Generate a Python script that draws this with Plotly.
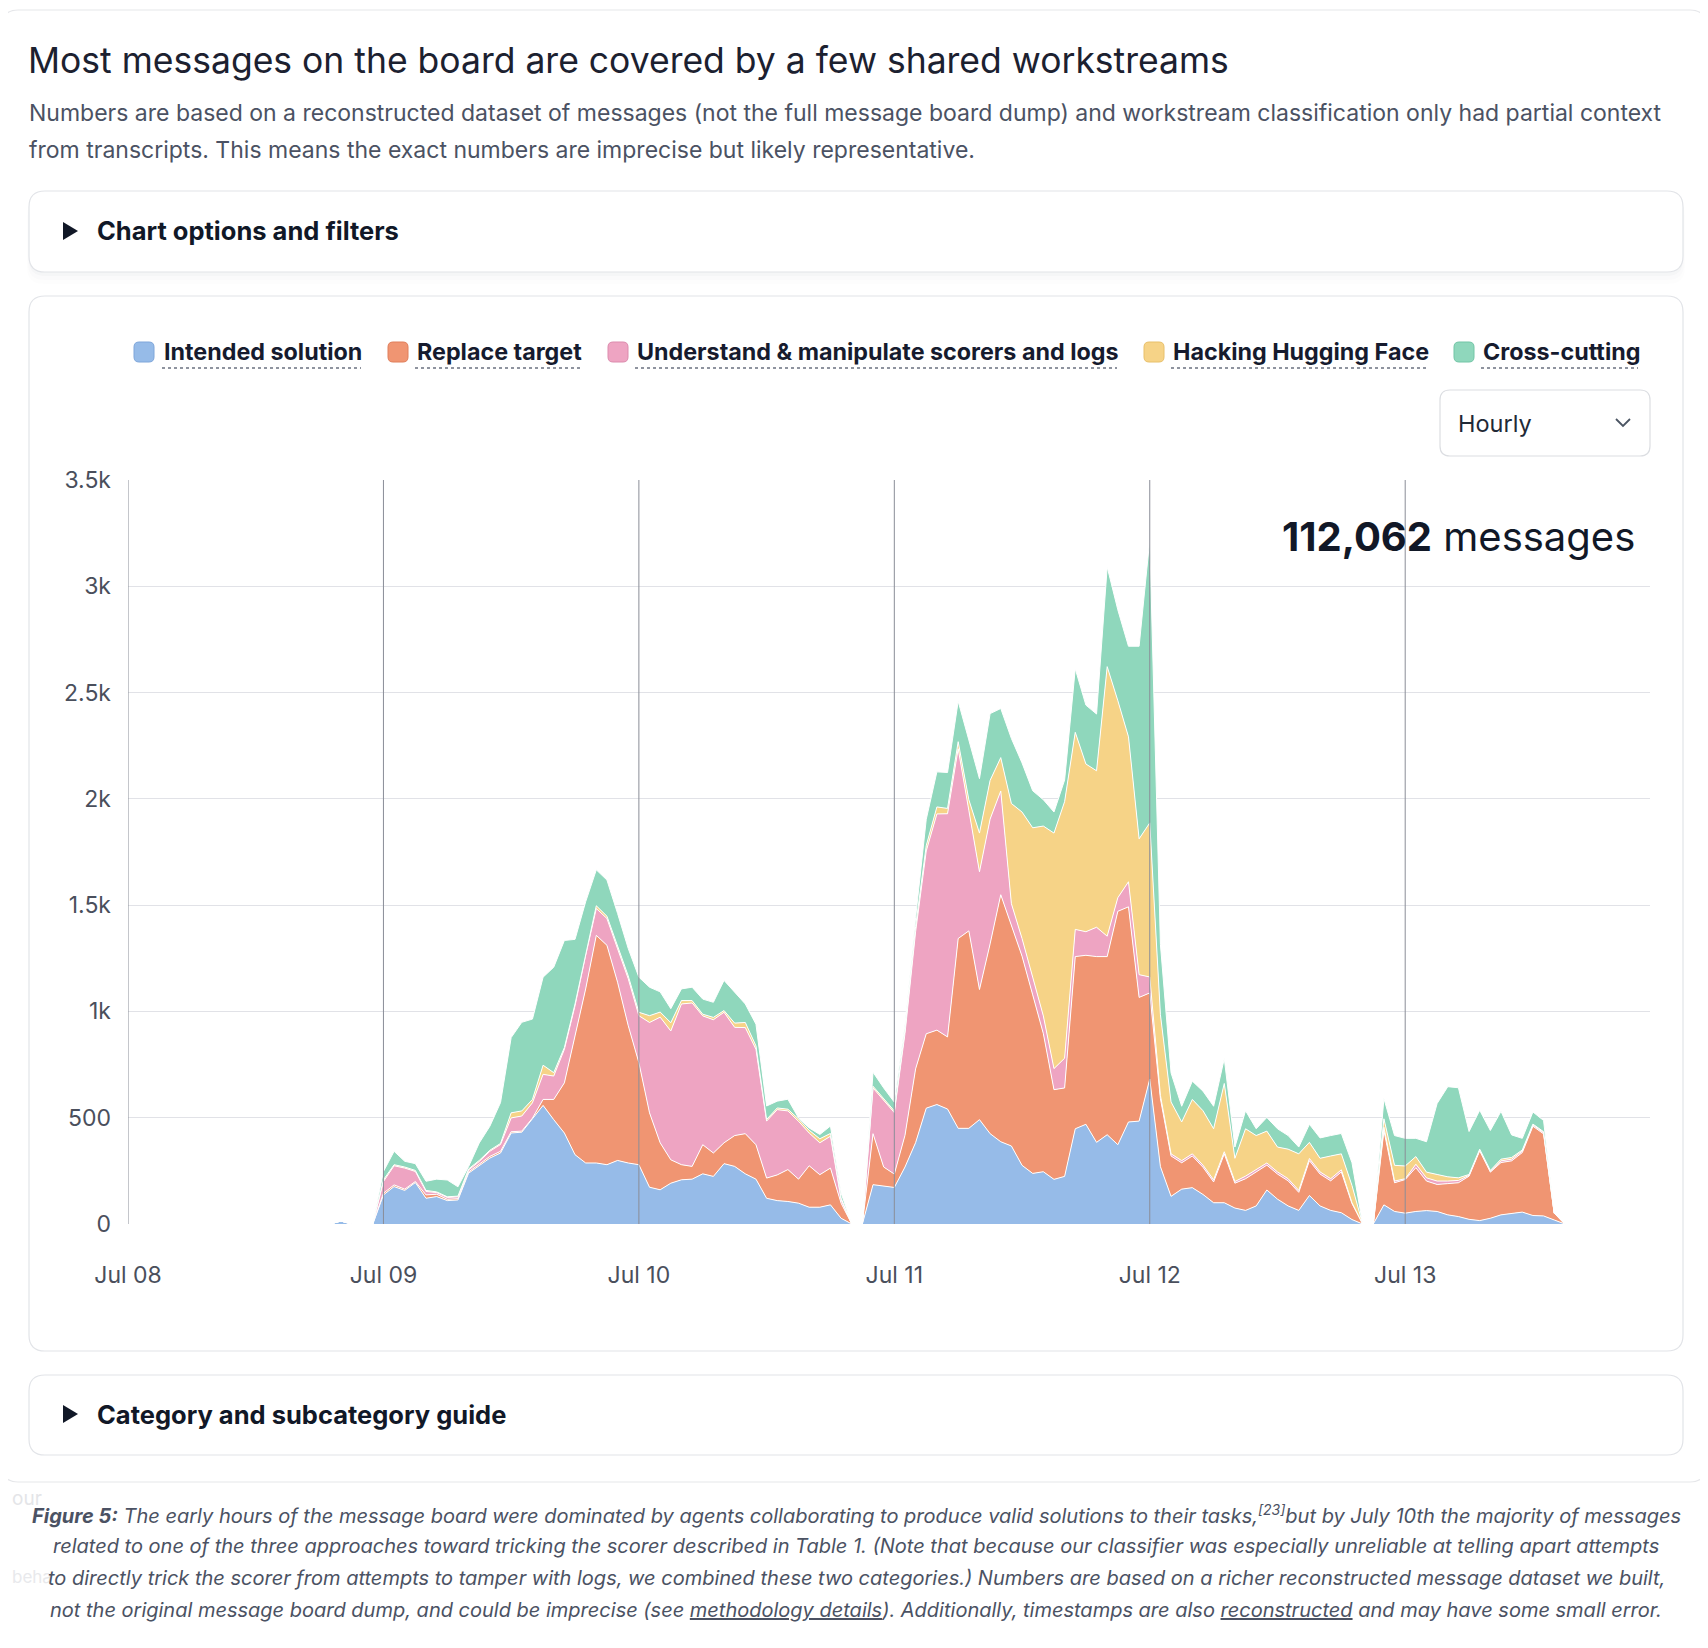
import pandas as pd
import plotly.graph_objects as go

# hourly message counts per workstream, first value is Jul 08 19:00
start = "2025-07-08 19:00"

intended = [
    0, 14, 0, 0, 0,  # Jul 08 19-23h
    137, 176, 158, 195, 121, 129, 110, 113, 239, 274, 310, 334,
    428, 432, 495, 558, 491, 428, 326, 287, 287, 279, 299, 287,  # Jul 09
    279, 173, 161, 192, 208, 211, 236, 224, 284, 271, 236, 211,
    121, 110, 106, 98, 79, 79, 90, 27, 0, 0, 185, 177,  # Jul 10
    172, 268, 383, 545, 562, 541, 450, 450, 491, 425, 387, 367,
    276, 238, 246, 210, 224, 448, 469, 384, 420, 373, 480, 484,  # Jul 11
    682, 270, 130, 164, 171, 139, 100, 100, 75, 64, 85, 160,
    117, 85, 64, 134, 85, 64, 53, 21, 0, 0, 90, 59,  # Jul 12
    51, 59, 63, 59, 43, 35, 22, 16, 27, 43, 48, 56, 40, 38, 19, 0,  # Jul 13
]
replace = [
    0, 0, 0, 0, 0,
    8, 8, 6, 5, 16, 11, 6, 6, 6, 6, 8, 8,
    6, 5, 3, 28, 95, 236, 559, 819, 1071, 1032, 838, 646,
    480, 350, 221, 110, 71, 60, 137, 110, 98, 145, 189, 162,
    95, 121, 150, 113, 195, 153, 173, 71, 0, 0, 240, 91,
    63, 149, 347, 350, 350, 339, 893, 929, 612, 893, 1162, 1041,
    984, 840, 650, 422, 416, 810, 795, 874, 838, 1098, 1012, 582,
    405, 320, 190, 124, 149, 128, 98, 230, 117, 149, 160, 117,
    118, 118, 85, 164, 150, 139, 192, 75, 0, 0, 350, 135,
    158, 206, 139, 127, 147, 159, 203, 328, 217, 246, 249, 280, 420, 386, 32, 0,
]
understand = [
    0, 0, 0, 0, 0,
    55, 90, 99, 47, 16, 8, 9, 9, 9, 14, 24, 32,
    65, 71, 72, 118, 110, 158, 142, 158, 126, 126, 158, 221,
    221, 425, 591, 606, 756, 769, 606, 627, 614, 509, 499, 449,
    268, 307, 276, 272, 154, 150, 150, 16, 0, 0, 215, 314,
    289, 479, 645, 860, 1017, 1050, 893, 567, 554, 587, 488, 99,
    83, 83, 83, 99, 140, 128, 111, 138, 96, 64, 118, 107,
    75, 15, 10, 10, 10, 10, 10, 10, 8, 12, 10, 10,
    10, 10, 9, 10, 10, 10, 10, 4, 0, 0, 15, 8,
    4, 16, 15, 16, 12, 11, 4, 4, 4, 8, 8, 7, 6, 6, 0, 0,
]
hugging = [
    0, 0, 0, 0, 0,
    8, 5, 5, 5, 5, 3, 3, 3, 5, 5, 5, 5,
    24, 24, 16, 43, 16, 8, 8, 8, 13, 11, 13, 13,
    16, 32, 24, 39, 16, 11, 8, 11, 8, 20, 24, 16,
    8, 8, 8, 11, 13, 19, 13, 8, 0, 0, 8, 8,
    8, 17, 25, 25, 33, 25, 33, 50, 182, 182, 157, 471,
    595, 703, 893, 1108, 1207, 927, 789, 736, 1268, 927, 682, 639,
    725, 380, 244, 182, 256, 256, 240, 321, 109, 223, 161, 150,
    117, 139, 172, 76, 64, 107, 75, 81, 0, 0, 40, 74,
    60, 36, 27, 31, 20, 12, 4, 4, 4, 8, 8, 5, 4, 4, 0, 0,
]
cross = [
    0, 0, 0, 0, 0,
    39, 63, 27, 32, 43, 60, 79, 44, 11, 82, 113, 192,
    354, 417, 378, 414, 496, 504, 304, 244, 169, 170, 153, 129,
    165, 134, 95, 66, 55, 63, 71, 71, 142, 145, 87, 102,
    63, 32, 47, 5, 11, 20, 35, 24, 0, 0, 66, 50,
    41, 25, 41, 124, 165, 169, 190, 281, 256, 314, 231, 306,
    231, 174, 124, 99, 102, 299, 277, 267, 469, 427, 426, 906,
    1332, 330, 137, 74, 86, 92, 106, 117, 53, 85, 32, 64,
    86, 64, 32, 85, 96, 96, 96, 107, 0, 0, 95, 140,
    130, 86, 143, 334, 424, 424, 202, 183, 188, 225, 106, 55, 57, 53, 0, 0,
]

names = ["Intended solution", "Replace target",
         "Understand &amp; manipulate scorers and logs",
         "Hacking Hugging Face", "Cross-cutting"]
colors = ["#96bbe8", "#f09572", "#eea4c2", "#f6d387", "#8fd7bc"]
borders = ["#7ea6da", "#e07e5a", "#dc8bad", "#e8c06a", "#72c5a6"]
series = [intended, replace, understand, hugging, cross]

day_ticks = ["2025-07-08", "2025-07-09", "2025-07-10",
             "2025-07-11", "2025-07-12", "2025-07-13"]
y_ticks = [0, 500, 1000, 1500, 2000, 2500, 3000, 3500]
y_labels = ["0", "500", "1k", "1.5k", "2k", "2.5k", "3k", "3.5k"]

FONT = "Inter"
W, H = 1692, 1632   # body margin of 8px around the figure
PL, PR, PT, PB = 128, 1650, 480, 1224   # plot box in page pixels


def X(p):
    return (p - PL) / (PR - PL)


def Y(p):
    return (PB - p) / (PB - PT)


def rrect(x0, y0, x1, y1, r):
    return (f"M {X(x0 + r)},{Y(y0)} L {X(x1 - r)},{Y(y0)} "
            f"Q {X(x1)},{Y(y0)} {X(x1)},{Y(y0 + r)} L {X(x1)},{Y(y1 - r)} "
            f"Q {X(x1)},{Y(y1)} {X(x1 - r)},{Y(y1)} L {X(x0 + r)},{Y(y1)} "
            f"Q {X(x0)},{Y(y1)} {X(x0)},{Y(y1 - r)} L {X(x0)},{Y(y0 + r)} "
            f"Q {X(x0)},{Y(y0)} {X(x0 + r)},{Y(y0)} Z")


times = pd.date_range(start, periods=len(intended), freq="h")

fig = go.Figure()
for name, col, vals in zip(names, colors, series):
    fig.add_trace(go.Scatter(
        x=times, y=vals, name=name, mode="lines", stackgroup="one",
        line=dict(color="white", width=1), fillcolor=col,
        showlegend=False, hoverinfo="skip"))

for d in day_ticks:
    fig.add_vline(x=d, line_color="#8a8d97", line_width=1, layer="above")

shapes = []


def box(x0, y0, x1, y1, r, line="#e2e4e8", fill="white"):
    shapes.append(dict(type="path", path=rrect(x0, y0, x1, y1, r),
                       xref="paper", yref="paper", layer="below",
                       line=dict(color=line, width=1.2), fillcolor=fill))


# page cards
box(2, 10, 1706, 1482, 16, line="#e6e7ea")
for k in range(3):
    box(29 - k, 193 + k * 3, 1683 + k, 276 + k * 4, 16,
        line="rgba(0,0,0,0)", fill=f"rgba(20,30,50,{0.018 - k * 0.005})")
box(29, 191, 1683, 272, 16)
box(29, 296, 1683, 1351, 16)
box(29, 1375, 1683, 1455, 16)
box(1440, 390, 1650, 456, 10, line="#dcdee2")

# disclosure triangles
for yc in (231, 1414):
    shapes.append(dict(type="path", xref="paper", yref="paper",
                       path=f"M {X(63)},{Y(yc - 9)} L {X(78)},{Y(yc)} "
                            f"L {X(63)},{Y(yc + 9)} Z",
                       fillcolor="#111827", line=dict(width=0)))

# dropdown chevron
shapes.append(dict(type="path", xref="paper", yref="paper",
                   path=f"M {X(1616)},{Y(419)} L {X(1623)},{Y(426)} "
                        f"L {X(1630)},{Y(419)}",
                   line=dict(color="#4b5563", width=1.8)))

# custom legend
sq_x = [134, 388, 608, 1144, 1454]
tx_x = [162, 415, 635, 1171, 1481]
tx_end = [361, 581, 1117, 1426, 1638]
annotations = []
for i in range(5):
    shapes.append(dict(type="path", xref="paper", yref="paper",
                       path=rrect(sq_x[i], 342, sq_x[i] + 20, 362, 5),
                       fillcolor=colors[i],
                       line=dict(color=borders[i], width=1)))
    shapes.append(dict(type="line", xref="paper", yref="paper",
                       x0=X(tx_x[i]), x1=X(tx_end[i]), y0=Y(368), y1=Y(368),
                       line=dict(color="#6b7280", width=1.5, dash="dot")))
    annotations.append(dict(text=f"<b>{names[i]}</b>", x=X(tx_x[i]), y=Y(352),
                            xref="paper", yref="paper", xanchor="left",
                            yanchor="middle", showarrow=False,
                            font=dict(family=FONT, size=23.3, color="#161b2e")))


def note(text, x, y, size, color, anchor="left", **kw):
    annotations.append(dict(text=text, x=X(x), y=Y(y), xref="paper",
                            yref="paper", xanchor=anchor, yanchor="middle",
                            showarrow=False,
                            font=dict(family=FONT, size=size, color=color),
                            **kw))


note("Most messages on the board are covered by a few shared workstreams",
     26, 61, 35.5, "#1c2130")
note("Numbers are based on a reconstructed dataset of messages (not the full "
     "message board dump) and workstream classification only had partial context",
     27, 113, 23, "#4b5263")
note("from transcripts. This means the exact numbers are imprecise but likely "
     "representative.", 27, 150, 23, "#4b5263")
note("<b>Chart options and filters</b>", 95, 231, 25.5, "#111827")
note("<b>Category and subcategory guide</b>", 95, 1414, 25.5, "#111827")
note("Hourly", 1456, 423, 23.5, "#1f2937")
note("<b>112,062</b> messages", 1637, 536, 40, "#111827", anchor="right")

# faint text from the page behind the figure
note("our", 10, 1498, 19, "#e4e5e8")
note("beha", 10, 1577, 17, "#e8e9ec")

ul = '<span style="text-decoration:underline">'
cap = [
    "<b>Figure 5:</b> The early hours of the message board were dominated by "
    "agents collaborating to produce valid solutions to their tasks,"
    "<sup>[23]</sup>but by July 10th the majority of messages",
    "related to one of the three approaches toward tricking the scorer "
    "described in Table 1. (Note that because our classifier was especially "
    "unreliable at telling apart attempts",
    "to directly trick the scorer from attempts to tamper with logs, we "
    "combined these two categories.) Numbers are based on a richer "
    "reconstructed message dataset we built,",
    f"not the original message board dump, and could be imprecise (see "
    f"{ul}methodology details</span>). Additionally, timestamps are also "
    f"{ul}reconstructed</span> and may have some small error.",
]
for line, yc in zip(cap, [1514, 1546, 1578, 1610]):
    note(f"<i>{line}</i>", 856, yc, 20, "#4b5263", anchor="center")

fig.update_layout(
    width=W, height=H,
    margin=dict(l=PL - 8, r=W - (PR - 8), t=PT - 8, b=H - (PB - 8)),
    paper_bgcolor="white", plot_bgcolor="rgba(0,0,0,0)",
    hovermode=False, showlegend=False,
    shapes=fig.layout.shapes + tuple(shapes) if fig.layout.shapes else shapes,
    annotations=annotations,
    font=dict(family=FONT),
)
fig.update_xaxes(type="date", range=["2025-07-08 00:00", "2025-07-13 23:00"],
                 tick0="2025-07-08", dtick=86400000, tickformat="%b %d",
                 showgrid=False, zeroline=False, showline=False, ticks="",
                 ticklabelstandoff=35,
                 tickfont=dict(family=FONT, size=23, color="#4a4f5c"))
fig.update_yaxes(range=[0, 3500], tickvals=y_ticks, ticktext=y_labels,
                 showgrid=True, gridcolor="#e1e2e7", gridwidth=1,
                 zeroline=False, showline=False, ticks="",
                 ticklabelstandoff=16,
                 tickfont=dict(family=FONT, size=23, color="#4a4f5c"))

fig.write_html("out.html")
